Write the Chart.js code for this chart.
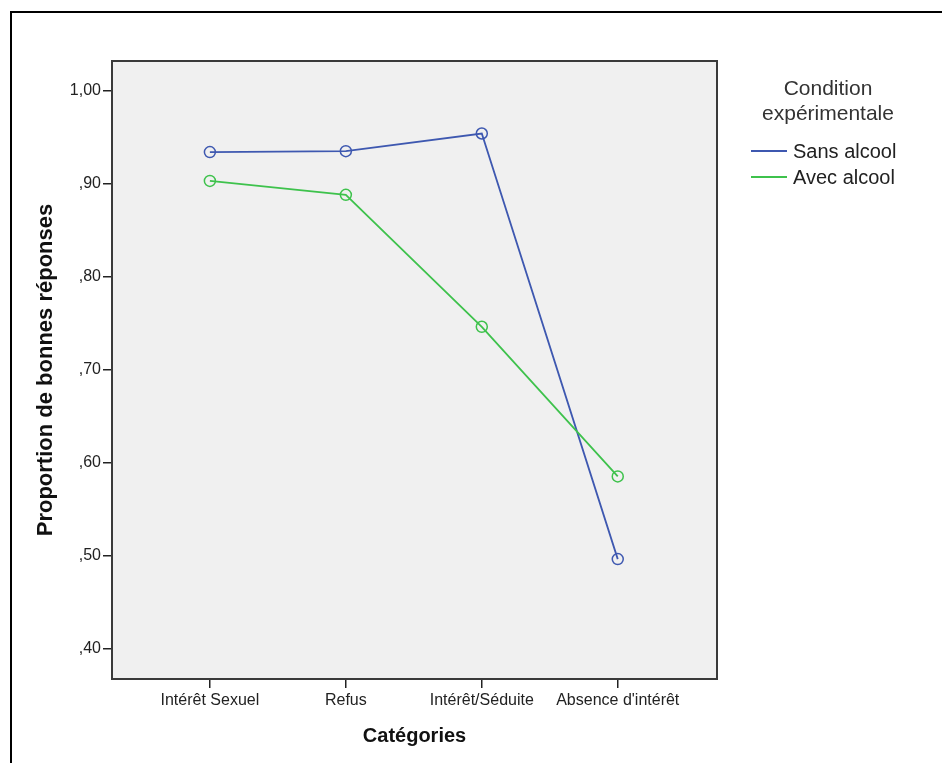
<!DOCTYPE html>
<html>
<head>
<meta charset="utf-8">
<script src="https://cdn.jsdelivr.net/npm/chart.js@4.4.1/dist/chart.umd.min.js"></script>
<style>
  html, body { margin: 0; padding: 0; background: #fff; }
  #wrap { position: relative; width: 942px; height: 763px; overflow: hidden; font-family: "Liberation Sans", Arial, sans-serif; }
  #frame { position: absolute; left: 10px; top: 11px; right: -10px; bottom: -10px; border-left: 2px solid #000; border-top: 2px solid #000; }
  canvas { position: absolute; left: 0; top: 0; }
  #legend { position: absolute; left: 740px; top: 75px; width: 175px; color: #333; }
  #legend .ttl { text-align: center; font-size: 21px; line-height: 25px; margin-left: 1px; }
  #legend .item { position: relative; height: 26px; font-size: 20px; line-height: 26px; color: #222; }
  #legend .item span.sw { position: absolute; left: 11px; top: 12px; width: 36px; height: 2px; }
  #legend .item span.tx { position: absolute; left: 53px; top: 0; white-space: nowrap; }
</style>
</head>
<body>
<div id="wrap">
  <div id="frame"></div>
  <canvas id="chart" width="942" height="763"></canvas>
  <div id="legend"></div>
</div>
<script>
// categories and series
const categories = ["Intérêt Sexuel", "Refus", "Intérêt/Séduite", "Absence d'intérêt"];
const sansAlcool = [0.934, 0.935, 0.954, 0.496];
const avecAlcool = [0.903, 0.888, 0.746, 0.585];
const yTickValues = [0.4, 0.5, 0.6, 0.7, 0.8, 0.9, 1.0];
const yTickLabels = [",40", ",50", ",60", ",70", ",80", ",90", "1,00"];

const legendTitle = ["Condition", "expérimentale"];
const seriesNames = ["Sans alcool", "Avec alcool"];
const seriesColors = ["#3e58b0", "#3ec24c"];

const FONT = '"Liberation Sans", Arial, sans-serif';

// grey panel + frame around the plot
const panel = {
    id: 'panel',
    beforeDatasetsDraw(chart) {
        const {ctx, chartArea: a} = chart;
        ctx.save();
        ctx.fillStyle = '#f0f0f0';
        ctx.fillRect(a.left, a.top, a.right - a.left, a.bottom - a.top);
        ctx.restore();
    },
    afterDraw(chart) {
        const {ctx, chartArea: a} = chart;
        ctx.save();
        ctx.strokeStyle = '#3a3a3a';
        ctx.lineWidth = 2;
        ctx.strokeRect(a.left, a.top, a.right - a.left, a.bottom - a.top);
        ctx.restore();
    }
};

const toPoints = arr => arr.map((v, i) => ({ x: i, y: v }));

const ctx = document.getElementById('chart').getContext('2d');
new Chart(ctx, {
    type: 'line',
    data: {
        datasets: [sansAlcool, avecAlcool].map((s, k) => ({
            label: seriesNames[k],
            data: toPoints(s),
            borderColor: seriesColors[k],
            backgroundColor: 'transparent',
            borderWidth: 1.8,
            pointRadius: 5.5,
            pointBorderWidth: 1.5,
            pointBackgroundColor: 'transparent',
            pointBorderColor: seriesColors[k],
            tension: 0
        })).reverse()
    },
    options: {
        responsive: false,
        animation: false,
        layout: { padding: { left: 0, top: 61, right: 225, bottom: 0 } },
        plugins: { legend: { display: false }, tooltip: { enabled: false } },
        scales: {
            x: {
                type: 'linear',
                min: -0.72,
                max: 3.73,
                afterBuildTicks: s => { s.ticks = categories.map((c, i) => ({ value: i })); },
                afterFit: s => { s.height = 84; },
                border: { display: false },
                grid: { drawOnChartArea: false, drawTicks: true, tickLength: 9, color: '#222', lineWidth: 1.5 },
                ticks: {
                    padding: 3,
                    maxRotation: 0,
                    autoSkip: false,
                    color: '#222',
                    font: { family: FONT, size: 16 },
                    callback: v => categories[v]
                },
                title: {
                    display: true,
                    text: 'Catégories',
                    color: '#111',
                    font: { family: FONT, size: 20, weight: 'bold' },
                    padding: { top: 0, bottom: 15 }
                }
            },
            y: {
                min: 0.367,
                max: 1.032,
                afterBuildTicks: s => { s.ticks = yTickValues.map(v => ({ value: v })); },
                afterFit: s => { s.width = 112; },
                border: { display: false },
                grid: { drawOnChartArea: false, drawTicks: true, tickLength: 9, color: '#222', lineWidth: 1.5 },
                ticks: {
                    padding: 2,
                    color: '#222',
                    font: { family: FONT, size: 16 },
                    callback: v => yTickLabels[yTickValues.findIndex(t => Math.abs(t - v) < 1e-6)]
                },
                title: {
                    display: true,
                    text: 'Proportion de bonnes réponses',
                    color: '#111',
                    font: { family: FONT, size: 22, weight: 'bold' },
                    padding: { top: 33, bottom: 0 }
                }
            }
        }
    },
    plugins: [panel]
});

// legend on the right
const lg = document.getElementById('legend');
lg.innerHTML = `<div class="ttl">${legendTitle.join('<br>')}</div><div style="height:13px"></div>` +
    seriesNames.map((n, k) => `<div class="item"><span class="sw" style="background:${seriesColors[k]}"></span><span class="tx">${n}</span></div>`).join('');
</script>
</body>
</html>
